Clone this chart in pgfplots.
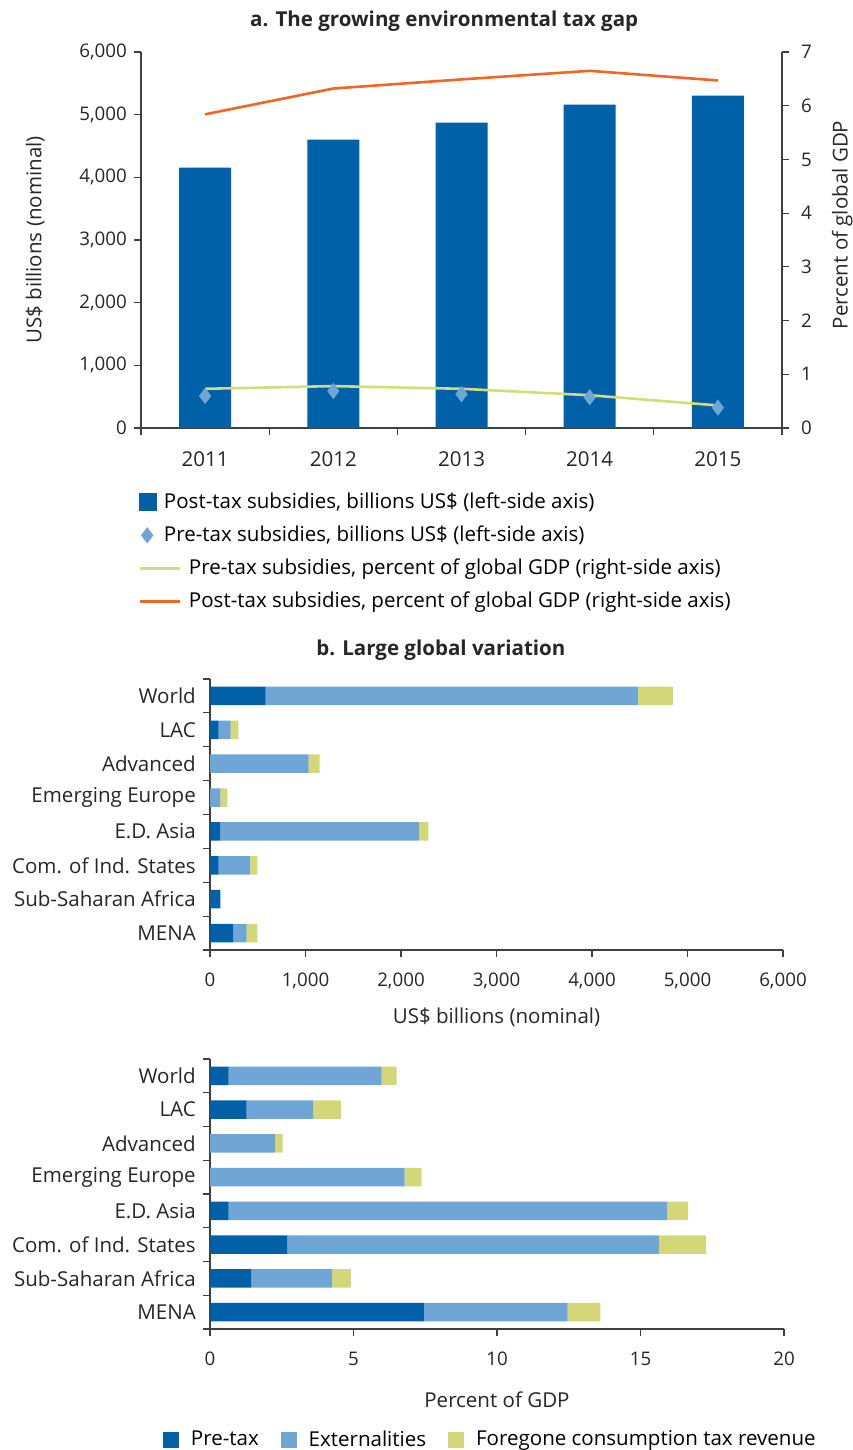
\documentclass[border=0pt]{standalone}
\usepackage{pgfplots}
\pgfplotsset{compat=1.18}
\usepackage{fontspec}
\setmainfont{Open Sans}

\definecolor{cdark}{RGB}{0,96,168}
\definecolor{clight}{RGB}{112,166,214}
\definecolor{cyel}{RGB}{212,215,120}
\definecolor{corange}{RGB}{242,101,34}
\definecolor{cgreen}{RGB}{212,220,120}
\definecolor{caxis}{RGB}{64,64,64}

\newcommand{\txt}{\fontsize{10.3}{12.4}\selectfont}
\newcommand{\num}{\fontsize{9.4}{11}\selectfont}

\pgfplotsset{
  every axis/.append style={
    scale only axis,
    axis line style={caxis, line width=0.6bp, -},
    every tick/.style={caxis, line width=0.6bp},
    tick align=outside,
    major tick length=3.5bp,
    minor tick length=3.5bp,
    /pgf/number format/assume math mode=true,
    tick label style={text=black!85},
    label style={text=black!85, font=\txt},
    xticklabel style={yshift=-4.5bp},
  },
  sq/.style={legend image code/.code={\fill[##1] (0bp,-4bp) rectangle (8bp,4bp);}},
}

\begin{document}
\txt
\begin{tikzpicture}
\useasboundingbox (0bp,0bp) rectangle (426.5bp,-725bp);

% panel a: bars, left axis
\begin{axis}[
  at={(70.5bp,-26bp)}, anchor=north west,
  width=320.5bp, height=188bp,
  xmin=-0.5, xmax=4.5, ymin=0, ymax=6000,
  axis x line*=bottom, axis y line*=left,
  xtick={0,1,2,3,4}, xticklabels={2011,2012,2013,2014,2015},
  xticklabel style={font=\txt},
  yticklabel style={font=\num},
  major x tick style={draw=none},
  minor xtick={-0.5,0.5,1.5,2.5,3.5,4.5},
  ytick={0,1000,...,6000},
  scaled y ticks=false,
  ylabel={US\$ billions (nominal)},
  ylabel style={at={(axis description cs:-0.165,0.5)}, anchor=center},
  title={\bfseries a. The growing environmental tax gap},
  title style={at={(axis description cs:0.473,1.051)}, anchor=center, text=black!85, font=\txt},
  ybar, bar width=26bp,
]
\addplot[fill=cdark, draw=none] coordinates {(0,4155) (1,4600) (2,4875) (3,5160) (4,5305)};
\end{axis}

% panel a: lines, right axis
\begin{axis}[
  at={(70.5bp,-26bp)}, anchor=north west,
  width=320.5bp, height=188bp,
  xmin=-0.5, xmax=4.5, ymin=0, ymax=7,
  axis y line*=right, axis x line=none,
  ytick={0,1,...,7},
  yticklabel style={font=\num, xshift=2.5bp},
  ylabel={Percent of global GDP},
  ylabel style={at={(axis description cs:1.094,0.54)}, anchor=center},
  legend style={at={(axis description cs:-0.014,-0.15)}, anchor=north west,
    draw=none, fill=none, cells={anchor=west}, row sep=3.2bp, font=\txt},
  legend cell align=left,
]
\addlegendimage{legend image code/.code={\fill[cdark] (0bp,-4.25bp) rectangle (8.5bp,4.25bp);}}
\addlegendimage{legend image code/.code={\fill[clight] (3.75bp,-3.75bp) -- (6.6bp,0bp) -- (3.75bp,3.75bp) -- (0.9bp,0bp) -- cycle;}}
\addplot[cgreen, line width=1.3bp, legend image code/.code={\draw[cgreen, line width=1.3bp] (0bp,0bp) -- (20bp,0bp);}]
  coordinates {(0,0.73) (1,0.78) (2,0.73) (3,0.61) (4,0.42)};
\addplot[corange, line width=1.3bp, legend image code/.code={\draw[corange, line width=1.3bp] (0bp,0bp) -- (20bp,0bp);}]
  coordinates {(0,5.84) (1,6.32) (2,6.49) (3,6.65) (4,6.47)};
\legend{{\hspace*{-10.5bp}Post-tax subsidies, billions US\$ (left-side axis)},
        {\hspace*{-10.5bp}Pre-tax subsidies, billions US\$ (left-side axis)},
        {\hspace*{2bp}Pre-tax subsidies, percent of global GDP (right-side axis)},
        {\hspace*{2bp}Post-tax subsidies, percent of global GDP (right-side axis)}}
\end{axis}

% panel a: diamonds on top
\begin{axis}[
  at={(70.5bp,-26bp)}, anchor=north west,
  width=320.5bp, height=188bp,
  xmin=-0.5, xmax=4.5, ymin=0, ymax=6000,
  hide axis,
]
\addplot[only marks, mark=diamond*, mark size=3.75bp, mark options={fill=clight, draw=clight}]
  coordinates {(0,510) (1,590) (2,540) (3,490) (4,325)};
\end{axis}

% panel b: billions
\begin{axis}[
  at={(105bp,-339.5bp)}, anchor=north west,
  width=286.5bp, height=135.5bp,
  xmin=0, xmax=6000, ymin=-0.5, ymax=7.5, y dir=reverse,
  axis x line*=bottom, axis y line*=left,
  xtick={0,1000,...,6000}, scaled x ticks=false,
  xticklabel style={font=\num},
  yticklabel style={font=\txt},
  ytick={0,...,7},
  yticklabels={World,LAC,Advanced,Emerging Europe,E.D. Asia,Com. of Ind. States,Sub-Saharan Africa,MENA},
  major y tick style={draw=none},
  minor ytick={-0.5,0.5,...,7.5},
  xlabel={US\$ billions (nominal)},
  xlabel style={at={(axis description cs:0.5,-0.247)}, anchor=center},
  title={\bfseries b. Large global variation},
  title style={at={(axis description cs:0.403,1.063)}, anchor=center, text=black!85, font=\txt},
  xbar stacked, bar width=9.2bp,
]
\addplot[fill=cdark, draw=none] coordinates {(583,0) (91,1) (0,2) (0,3) (109,4) (91,5) (109,6) (246,7)};
\addplot[fill=clight, draw=none] coordinates {(3897,0) (126,1) (1034,2) (109,3) (2080,4) (326,5) (0,6) (137,7)};
\addplot[fill=cyel, draw=none] coordinates {(366,0) (80,1) (115,2) (74,3) (97,4) (80,5) (0,6) (114,7)};
\end{axis}

% panel b: percent of GDP
\begin{axis}[
  at={(105bp,-529.5bp)}, anchor=north west,
  width=287bp, height=135bp,
  xmin=0, xmax=20, ymin=-0.5, ymax=7.5, y dir=reverse,
  axis x line*=bottom, axis y line*=left,
  xtick={0,5,...,20},
  xticklabel style={font=\num},
  yticklabel style={font=\txt},
  ytick={0,...,7},
  yticklabels={World,LAC,Advanced,Emerging Europe,E.D. Asia,Com. of Ind. States,Sub-Saharan Africa,MENA},
  major y tick style={draw=none},
  minor ytick={-0.5,0.5,...,7.5},
  xlabel={Percent of GDP},
  xlabel style={at={(axis description cs:0.5,-0.263)}, anchor=center},
  xbar stacked, bar width=9.2bp,
  legend style={at={(axis description cs:0.49,-0.411)}, anchor=center,
    legend columns=3, draw=none, fill=none,
    /tikz/every odd column/.append style={column sep=4bp},
    /tikz/every even column/.append style={column sep=9bp},
    font=\txt},
]
\addplot[fill=cdark, draw=none, sq] coordinates {(0.65,0) (1.28,1) (0,2) (0,3) (0.65,4) (2.69,5) (1.43,6) (7.45,7)};
\addplot[fill=clight, draw=none, sq] coordinates {(5.33,0) (2.32,1) (2.27,2) (6.78,3) (15.29,4) (12.95,5) (2.82,6) (5.01,7)};
\addplot[fill=cyel, draw=none, sq] coordinates {(0.52,0) (0.97,1) (0.26,2) (0.59,3) (0.71,4) (1.64,5) (0.66,6) (1.14,7)};
\legend{Pre-tax, Externalities, Foregone consumption tax revenue}
\end{axis}
\end{tikzpicture}
\end{document}
